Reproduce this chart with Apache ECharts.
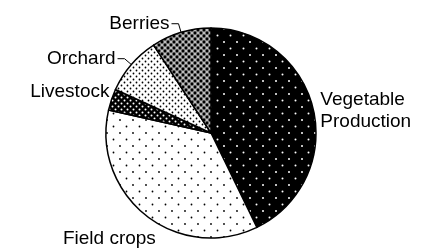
<!DOCTYPE html>
<html>
<head>
<meta charset="utf-8">
<script src="https://cdn.jsdelivr.net/npm/echarts@6/dist/echarts.min.js"></script>
<style>
  html, body { margin: 0; padding: 0; background: #fff; }
  #chart { width: 427px; height: 248px; }
</style>
</head>
<body>
<div id="chart"></div>
<script>
// slices, clockwise from 12 o'clock
const categories = ['Vegetable\nProduction', 'Field crops', 'Livestock', 'Orchard', 'Berries'];
const shares = [42.8, 35.7, 3.3, 9.0, 9.2];

// small tiled canvas used as a fill pattern
function makePattern(size, bg, dots) {
    const c = document.createElement('canvas');
    c.width = size;
    c.height = size;
    const ctx = c.getContext('2d');
    ctx.fillStyle = bg;
    ctx.fillRect(0, 0, size, size);
    dots.forEach(([x, y, r, col]) => {
        ctx.fillStyle = col;
        ctx.beginPath();
        ctx.arc(x, y, r, 0, Math.PI * 2);
        ctx.fill();
    });
    return { image: c, repeat: 'repeat' };
}

const fills = [
    makePattern(13, '#000', [[3, 3, 1, '#fff'], [9.5, 9.5, 1, '#fff']]),
    makePattern(13, '#fff', [[3, 3, 0.9, '#000'], [9.5, 9.5, 0.9, '#000']]),
    makePattern(6, '#000', [[1.5, 1.5, 1, '#fff'], [4.5, 4.5, 1, '#fff']]),
    makePattern(6, '#fff', [[1.5, 1.5, 0.9, '#000'], [4.5, 4.5, 0.9, '#000']]),
    makePattern(6, '#8c8c8c', [
        [0, 0, 1.4, '#000'], [6, 0, 1.4, '#000'], [0, 6, 1.4, '#000'], [6, 6, 1.4, '#000'],
        [3, 3, 1.4, '#000'],
        [3, 0, 0.8, '#fff'], [0, 3, 0.8, '#fff'], [6, 3, 0.8, '#fff'], [3, 6, 0.8, '#fff']
    ])
];

// per-slice label tweaks
const lineShown = [false, false, false, true, true];
const labelShift = [[5, 1], [12, 23], [0, -8], [0, 0], [0, 0]];

const chart = echarts.init(document.getElementById('chart'), null, { renderer: 'canvas' });

chart.setOption({
    animation: false,
    series: [{
        type: 'pie',
        center: [211, 133],
        radius: 105,
        startAngle: 90,
        clockwise: true,
        avoidLabelOverlap: false,
        itemStyle: { borderColor: '#000', borderWidth: 1.5 },
        label: {
            color: '#000',
            fontSize: 19,
            fontFamily: 'Liberation Sans, Arial, sans-serif',
            lineHeight: 22,
            distanceToLabelLine: 2
        },
        labelLine: {
            length: 9,
            length2: 7,
            smooth: false,
            lineStyle: { color: '#000', width: 1 }
        },
        labelLayout: (p) => ({ dx: labelShift[p.dataIndex][0], dy: labelShift[p.dataIndex][1] }),
        emphasis: { disabled: true },
        data: categories.map((name, i) => ({
            name: name,
            value: shares[i],
            itemStyle: { color: fills[i] },
            label: i === 0 ? { align: 'left' } : {},
            labelLine: lineShown[i] ? {} : { show: false, length: 0, length2: 0 }
        }))
    }]
});
</script>
</body>
</html>
